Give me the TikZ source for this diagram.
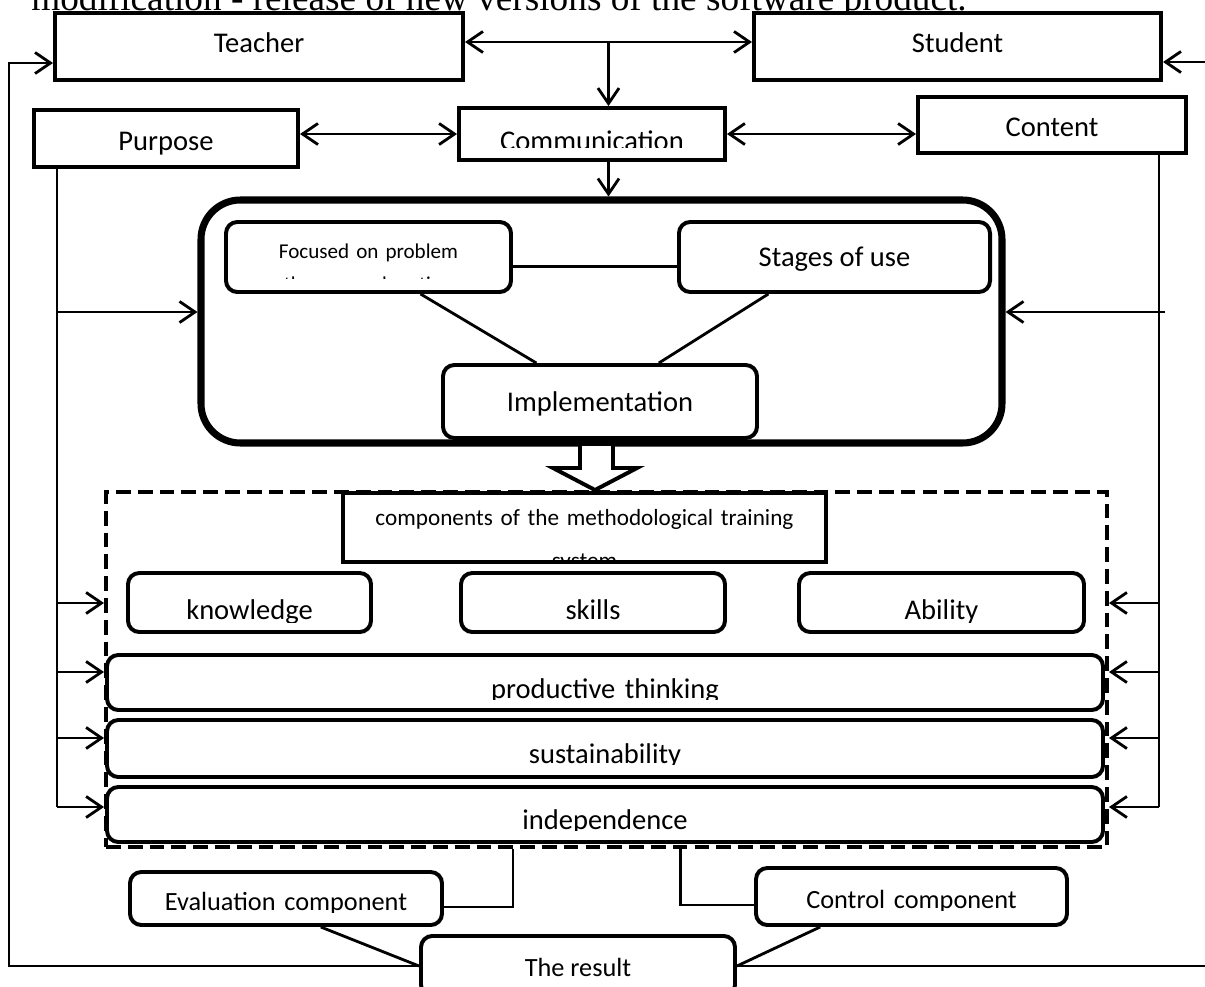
\documentclass[tikz,border=0pt]{standalone}
\usepackage{fontspec}
\setmainfont{Carlito}
\newfontfamily\captionface{Liberation Serif}
\usetikzlibrary{arrows.meta,
                calc,
                fit}

\begin{document}
\begin{tikzpicture}[
            x = 0.025cm, y = -0.025cm,
            > = {Straight Barb[length=11pt,width=15pt]},
            base/.style = {draw, line width=2.8pt, fill=white, inner sep=0pt,
                    font=\fontsize{20.3pt}{24pt}\selectfont},
            squarebox/.style = {base, rectangle},
            roundbox/.style = {base, rounded corners=8pt},
            corebox/.style = {draw, line width=5pt, rounded corners=28pt, inner sep=0pt},
            dashbox/.style = {draw, line width=2.8pt, dash pattern=on 10.5pt off 5pt,
                    inner sep=0pt},
            boxsize/.style 2 args = {minimum width=#1, minimum height=#2},
            textdrop/.style 2 args = {text height=#1, text depth=#2},
            link/.style = {line width=2pt},
            small/.style = {font=\fontsize{18.7pt}{22pt}\selectfont},
            cuttext/.style n args = {4}{path picture={
                    \clip (path picture bounding box.north west) rectangle
                          ($(path picture bounding box.north east)+(0,#2)$);
                    \node [anchor=base, inner sep=0pt, minimum size=0pt,
                           align=center, font=#3]
                          at ($(path picture bounding box.north)+(0,#1)$) {#4};}}]

        \useasboundingbox (0,0) rectangle (1205,987);

        \node [anchor=base west, inner sep=0pt,
            font=\captionface\fontsize{26.5pt}{30pt}\selectfont] (caption)
            at (31,10) {modification - release of new versions of the software product.};

        % Top row
        \node [squarebox, boxsize={290.2pt}{47.7pt}, textdrop={14.6pt}{5.4pt}]
            (teacher) at (259,46.5) {Teacher};
        \node [squarebox, boxsize={289.5pt}{47.7pt}, textdrop={14.6pt}{5.4pt}]
            (student) at (957.5,46.5) {Student};
        \node [squarebox, boxsize={187.8pt}{40.5pt}, textdrop={18.2pt}{1.8pt}]
            (purpose) at (166,138.5) {Purpose};
        \node [squarebox, fit={(459,108) (725,160)},
            cuttext={42}{39}{\fontsize{20.3pt}{24pt}\selectfont}{Communication}] (comm) {};
        \node [squarebox, boxsize={190.6pt}{39.8pt}, textdrop={18.5pt}{1.5pt}]
            (content) at (1052,125) {Content};

        % Implementation block
        \node [corebox, fit={(201,200) (1002,443)}]    (core) {};
        \node [roundbox, fit={(226,222) (511,292)},
            cuttext={36}{56}{\fontsize{15pt}{23.5pt}\selectfont}{Focused on problem\\the research action}] (focused) {};
        \node [roundbox, boxsize={221.2pt}{49.8pt}, textdrop={16.4pt}{3.6pt}]
            (stages) at (834.5,257) {Stages of use};
        \node [roundbox, boxsize={223.3pt}{51.9pt}, textdrop={16.8pt}{3.2pt}]
            (impl) at (600,401.5) {Implementation};

        \draw [link] ([yshift=-7pt]focused.east) -- ([yshift=-7pt]focused.east -| stages.west);
        \draw [link] ($(focused.south west)!0.68!(focused.south east)$)
            -- ($(impl.north west)!0.3!(impl.north east)$);
        \draw [link] ($(stages.south west)!0.29!(stages.south east)$)
            -- ($(impl.north west)!0.685!(impl.north east)$);

        % block arrow
        \draw [line width=2.8pt, fill=white, line join=miter]
            (580,446) -- (580,468) -- (553,468) -- (595,490) -- (637,468) -- (613,468) -- (613,446);

        % Components
        \node [squarebox, fit={(343,493) (826,562)},
            cuttext={32}{66}{\fontsize{16.5pt}{30.6pt}\selectfont}{components of the methodological training\\system}] (comps) {};
        \node [roundbox, fit={(128,573) (371,632)},
            cuttext={46}{49}{\fontsize{20.3pt}{24pt}\selectfont}{knowledge}] (know) {};
        \node [roundbox, fit={(461,573) (725,632)},
            cuttext={46}{49}{\fontsize{20.3pt}{24pt}\selectfont}{skills}] (skills) {};
        \node [roundbox, fit={(799,573) (1084,632)},
            cuttext={46}{49}{\fontsize{20.3pt}{24pt}\selectfont}{Ability}] (ability) {};
        \node [roundbox, fit={(107,655) (1103,710)},
            cuttext={43}{44}{\fontsize{20.3pt}{24pt}\selectfont}{productive thinking}] (prod) {};
        \node [roundbox, fit={(107,720) (1103,777)},
            cuttext={43}{44}{\fontsize{20.3pt}{24pt}\selectfont}{sustainability}] (sust) {};
        \node [roundbox, fit={(107,787) (1103,842)},
            cuttext={42}{43}{\fontsize{20.3pt}{24pt}\selectfont}{independence}] (indep) {};
        \node [dashbox, fit={(106,492) (1107,847)}]   (frame) {};

        % Out
        \node [roundbox, fit={(130,872) (442,925)},
            cuttext={38}{40}{\fontsize{18.7pt}{22pt}\selectfont}{Evaluation component}] (eval) {};
        \node [roundbox, fit={(756,868) (1067,925)},
            cuttext={40}{42}{\fontsize{18.7pt}{22pt}\selectfont}{Control component}] (control) {};
        \node [roundbox, small, boxsize={223.3pt}{42.7pt}, textdrop={17.8pt}{2.2pt}]
            (result) at (578,966) {The result};

        %%
        \path ($(teacher.east)!0.5!(student.west)$) ++(0,-4.5) coordinate (tsmid);
        \draw [link, <->] (tsmid -| teacher.east) -- (tsmid -| student.west);
        \draw [link, ->] (tsmid) -- (tsmid |- comm.north);
        \draw [link, <->] (comm.west -| purpose.east) -- (comm.west);
        \draw [link, <->] (comm.east) -- (comm.east -| content.west);
        \draw [link, ->] (tsmid |- comm.south) -- (tsmid |- core.north);

        \coordinate (studentin) at (1210,62);
        \draw [link, ->] (studentin) -- (studentin -| student.east);
        \coordinate (topin) at (847,-5);
        \draw [link] (topin) -- (topin |- student.north);

        % feedback loops
        \coordinate (outtop) at (9,63);
        \draw [link, ->] (result.west) -| (outtop) -- (outtop -| teacher.west);
        \coordinate (outright) at (1210,970);
        \draw [link] (result.east) -- (result.east -| outright);

        % side buses
        \coordinate (lbus) at (57,807);
        \coordinate (rbus) at (1159,807);
        \draw [link] (lbus |- purpose.south) -- (lbus);
        \draw [link] (rbus |- content.south) -- (rbus);
        \coordinate (lcore) at (57,312);
        \coordinate (rcore) at (1165,312);
        \draw [link, ->] (lcore) -- (lcore -| core.west);
        \draw [link, ->] (rcore) -- (rcore -| core.east);
        \foreach \y [count=\i] in {603,672,738,807} {
            \coordinate (lrow\i) at (57,\y);
            \coordinate (rrow\i) at (1159,\y);
            \draw [link, ->] (lrow\i) -- (lrow\i -| frame.west);
            \draw [link, ->] (rrow\i) -- (rrow\i -| frame.east);
        }

        % bottom
        \draw [link] ($(frame.south west)!0.407!(frame.south east)$) |- ([yshift=-6pt]eval.east);
        \draw [link] ($(frame.south west)!0.574!(frame.south east)$) |- ([yshift=-6pt]control.west);
        \draw [link] ($(eval.south west)!0.61!(eval.south east)$) -- (result.west);
        \draw [link] ($(control.south west)!0.21!(control.south east)$) -- (result.east);
    \end{tikzpicture}
\end{document}
